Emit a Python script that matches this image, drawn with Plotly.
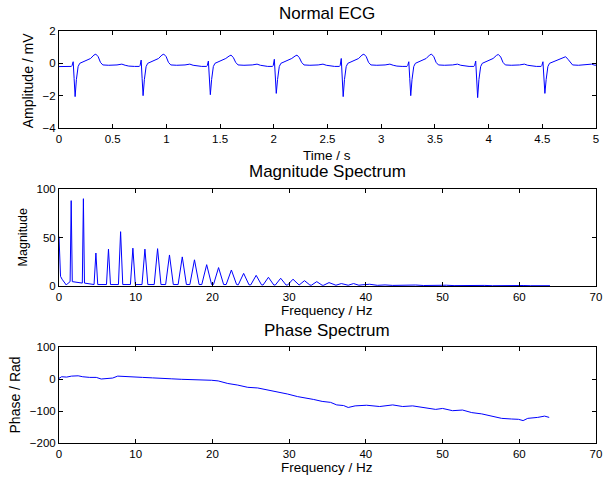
import plotly.graph_objects as go

# ---------------- ECG (time domain) ----------------
beat_s_time = [0.150, 0.783, 1.409, 2.023, 2.646, 3.275, 3.898, 4.524]
beat_r_peak = [0.10, 0.20, 0.14, 0.25, 0.30, 0.10, 0.14, 0.10]
beat_s_min = [-2.06, -2.00, -1.94, -1.86, -2.06, -2.00, -2.12, -1.86]
beat_t_peak = [0.57, 0.57, 0.51, 0.51, 0.57, 0.57, 0.55, 0.41]
# one beat: offsets (s) from the S trough and values (mV);
# strings mark the per-beat R, S and T readings
shape_offset = [-0.08, -0.035, -0.028, -0.018, -0.009, 0.0, 0.012, 0.028, 0.043, 0.098,
                0.144, 0.175, 0.193, 0.215, 0.236, 0.258, 0.313, 0.39, 0.435, 0.466, 0.50]
shape_value = [-0.19, -0.19, -0.13, "R", -0.95, "S", -1.0, -0.2, 0.0, 0.14,
               0.30, "T1", "T", "T2", 0.06, -0.10, -0.12, -0.10, -0.05, -0.12, -0.17]
ecg_start = (0.0, -0.20)
ecg_end = (5.0, -0.11)

# ---------------- Magnitude spectrum ----------------
mag_start_freq = [0.0, 0.2, 0.4, 0.7, 0.95, 1.2, 1.4]
mag_start_value = [51, 10, 7, 4, 1, 3, 4.5]
harm_freq = [1.59, 3.18, 4.81, 6.45, 8.03, 9.63, 11.2, 12.85, 14.4, 16.07, 17.66, 19.25,
             20.8, 22.47, 24.07, 25.7, 27.3, 28.9, 30.5, 32.0, 33.6, 35.2, 36.8, 38.4]
harm_peak = [88, 90, 34, 38, 56, 39, 38, 38.5, 32, 30, 27, 22,
             19, 16.5, 13, 11, 9, 8, 7, 5.5, 4.5, 3.5, 2.5, 2.5]
harm_halfwidth = [0.14, 0.14, 0.24, 0.26, 0.28, 0.32, 0.38, 0.44, 0.5, 0.54, 0.6, 0.64,
                  0.66, 0.68, 0.7, 0.7, 0.7, 0.7, 0.7, 0.7, 0.7, 0.7, 0.7, 0.7]
harm_base = [4.5, 3, 1.5, 1.5, 1.5, 1.5, 1.5, 1.5, 1.5, 1.5, 1.5, 1.5,
             1.5, 1.5, 1.2, 1.2, 1.0, 1.0, 1.0, 1.0, 0.8, 0.8, 0.8, 0.8]
mag_tail_freq = [39.5, 40.5, 41.5, 42.5, 43.5, 44.5, 45.5, 46.5, 47.5, 48.5, 49.5, 50.5,
                 51.5, 52.5, 53.5, 54.5, 55.5, 56.5, 57.5, 58.5, 59.5, 60.5, 61.5, 62.5, 63.5, 64.0]
mag_tail_value = [1.2, 1.8, 0.7, 1.1, 0.6, 0.9, 0.5, 1.0, 0.5, 0.7, 0.4, 0.8,
                  0.4, 0.6, 0.5, 0.4, 0.6, 0.3, 0.5, 0.4, 0.3, 0.5, 0.3, 0.4, 0.3, 0.3]

# ---------------- Phase spectrum ----------------
phase_freq = [0, 0.34, 1.0, 1.63, 2.5, 3.1, 4.0, 4.86, 5.5, 6.36, 7.0, 7.65, 8.7, 9.6, 10.9,
              12.2, 13.4, 14.7, 16.0, 17.3, 18.6, 19.9, 20.75, 22.0, 23.3, 24.6, 25.9, 27.2,
              28.5, 29.8, 31.1, 32.4, 33.2, 34.3, 35.4, 36.2, 37.1, 37.7, 38.6, 40.1, 41.8,
              43.5, 44.8, 46.1, 47.4, 49.1, 50.0, 51.3, 52.6, 53.8, 55.1, 56.4, 57.7, 59.0,
              59.9, 60.5, 61.1, 62.4, 63.3, 63.9]
phase_value = [2, 7, 6, 9, 10, 7, 5, 5, 0, 3, 3, 9, 7, 6, 5, 3.5, 3, 0.5, -1, -2, -2, -4, -6,
               -14, -19, -26, -28, -34, -40, -47, -55, -60, -64, -70, -73, -81, -83, -89, -84,
               -82, -86, -81, -86, -84, -88, -95, -92, -99, -97, -105, -109, -116, -123, -125,
               -126, -130, -123, -120, -116, -120]

# ---------------- build traced series ----------------
ecg_t, ecg_v = [ecg_start[0]], [ecg_start[1]]
for ts, r, s, tp in zip(beat_s_time, beat_r_peak, beat_s_min, beat_t_peak):
    marks = {"R": r, "S": s, "T": tp, "T1": tp - 0.06, "T2": tp - 0.16}
    for off, val in zip(shape_offset, shape_value):
        t = ts + off
        if t >= ecg_end[0]:
            break
        ecg_t.append(round(t, 4))
        ecg_v.append(marks[val] if isinstance(val, str) else val)
ecg_t.append(ecg_end[0])
ecg_v.append(ecg_end[1])

mag_f = list(mag_start_freq)
mag_v = list(mag_start_value)
for f, p, hw, b in zip(harm_freq, harm_peak, harm_halfwidth, harm_base):
    mag_f += [f - hw, f, f + hw]
    mag_v += [b, p, b]
mag_f += mag_tail_freq
mag_v += mag_tail_value

BLUE = "#0000ff"
FONT = "Liberation Sans, Arial, Helvetica, sans-serif"

fig = go.Figure()
fig.add_trace(go.Scatter(x=ecg_t, y=ecg_v, mode="lines", line=dict(color=BLUE, width=1),
                         xaxis="x", yaxis="y", hoverinfo="skip"))
fig.add_trace(go.Scatter(x=mag_f, y=mag_v, mode="lines", line=dict(color=BLUE, width=1),
                         xaxis="x2", yaxis="y2", hoverinfo="skip"))
fig.add_trace(go.Scatter(x=phase_freq, y=phase_value, mode="lines", line=dict(color=BLUE, width=1),
                         xaxis="x3", yaxis="y3", hoverinfo="skip"))

axis_common = dict(showline=True, linecolor="black", linewidth=1, mirror="ticks",
                   ticks="inside", ticklen=4, tickcolor="black", showgrid=False,
                   zeroline=False, tickfont=dict(size=11.5, color="black", family=FONT))

H_TOP, H_BOT = 31, 34
plot_h = 477 - H_TOP - H_BOT


def dom(top_px, bot_px):
    return [(477 - H_BOT - bot_px) / plot_h, (477 - H_BOT - top_px) / plot_h]


fig.update_layout(
    width=610, height=477,
    margin=dict(l=59, r=8, t=H_TOP, b=H_BOT),
    paper_bgcolor="white", plot_bgcolor="white",
    showlegend=False,
    font=dict(family=FONT, color="black"),
    xaxis=dict(axis_common, domain=[0, 1], range=[0, 5], tickvals=[0, 0.5, 1, 1.5, 2, 2.5, 3, 3.5, 4, 4.5, 5],
               ticktext=["0", "0.5", "1", "1.5", "2", "2.5", "3", "3.5", "4", "4.5", "5"], anchor="y"),
    yaxis=dict(axis_common, domain=dom(31, 128), range=[-4, 2], tickvals=[-4, -2, 0, 2], anchor="x"),
    xaxis2=dict(axis_common, domain=[0, 1], range=[0, 70], tickvals=list(range(0, 71, 10)), anchor="y2"),
    yaxis2=dict(axis_common, domain=dom(189, 286), range=[0, 100], tickvals=[0, 50, 100], anchor="x2"),
    xaxis3=dict(axis_common, domain=[0, 1], range=[0, 70], tickvals=list(range(0, 71, 10)), anchor="y3"),
    yaxis3=dict(axis_common, domain=dom(347, 443), range=[-200, 100], tickvals=[-200, -100, 0, 100], anchor="x3"),
)


def py(p):
    return (477 - H_BOT - p) / plot_h


def px(p):
    return (p - 59) / (610 - 59 - 8)


annos = [
    ("Normal ECG", 330, 14, 17, 0),
    ("Time / s", 330, 155, 13.5, 0),
    ("Magnitude Spectrum", 330, 172, 17, 0),
    ("Frequency / Hz", 330, 311, 13.5, 0),
    ("Phase Spectrum", 330, 330, 17, 0),
    ("Frequency / Hz", 330, 467.5, 13.5, 0),
    ("Amplitude / mV", 28, 80, 14, -90),
    ("Magnitude", 23, 237, 12.5, -90),
    ("Phase / Rad", 15, 395, 14, -90),
]
for text, x, y, size, ang in annos:
    fig.add_annotation(text=text, x=px(x), y=py(y), xref="paper", yref="paper",
                       xanchor="center", yanchor="middle", showarrow=False,
                       textangle=ang, font=dict(size=size, color="black", family=FONT))

fig.write_html("out.html", config={"displayModeBar": False},
               post_script="document.body.style.margin='0px';document.body.style.overflow='hidden';")
